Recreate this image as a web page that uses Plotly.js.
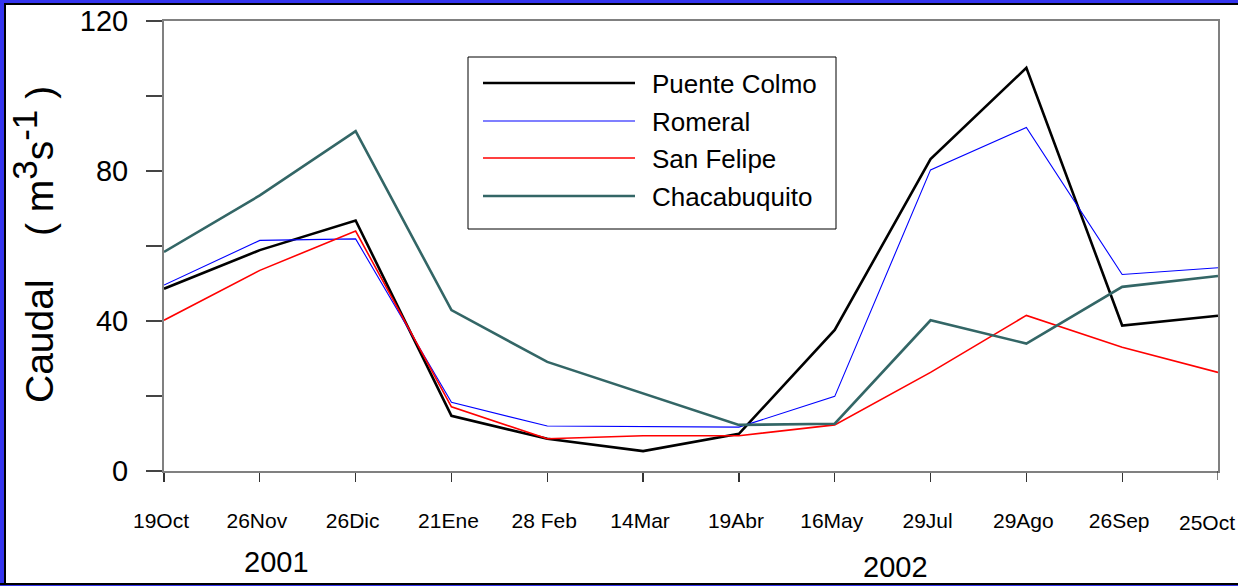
<!DOCTYPE html>
<html>
<head>
<meta charset="utf-8">
<script src="https://cdn.plot.ly/plotly-3.0.1.min.js"></script>
<style>
  html, body { margin: 0; padding: 0; background: #ffffff; }
  #wrap { position: relative; width: 1238px; height: 586px; overflow: hidden; }
  #chart { position: absolute; left: 0; top: 0; width: 1238px; height: 586px; }
  .bd { position: absolute; pointer-events: none; }
</style>
</head>
<body>
<div id="wrap">
  <div id="chart"></div>
  <div class="bd" style="left:0;top:0;width:1238px;height:3px;background:#3535ee;"></div>
  <div class="bd" style="left:0;top:3px;width:1238px;height:2px;background:#000;"></div>
  <div class="bd" style="left:0;top:0;width:4px;height:586px;background:#3535ee;"></div>
  <div class="bd" style="left:4px;top:3px;width:2px;height:583px;background:#000;"></div>
  <div class="bd" style="left:0;top:583px;width:1238px;height:2px;background:#000;"></div>
  <div class="bd" style="left:0;top:585px;width:1238px;height:1px;background:#3535ee;"></div>
</div>
<script>
// Sampling dates (categories)
const dates = ['19Oct', '26Nov', '26Dic', '21Ene', '28 Feb', '14Mar', '19Abr', '16May', '29Jul', '29Ago', '26Sep', '25Oct'];

// Discharge (m3/s) per station
const puenteColmo  = [48.6, 58.9, 66.8, 14.7, 8.6, 5.3, 9.9, 37.6, 83.2, 107.5, 38.8, 41.4];
const romeral      = [49.6, 61.5, 61.9, 18.3, 12.0, 11.9, 11.7, 19.9, 80.3, 91.6, 52.4, 54.2];
const sanFelipe    = [40.2, 53.5, 64.0, 17.1, 8.6, 9.4, 9.4, 12.3, 26.3, 41.5, 33.0, 26.3];
const chacabuquito = [58.4, 73.5, 90.6, 42.9, 29.1, 20.8, 12.3, 12.6, 40.2, 34.0, 49.1, 52.0];

const seriesNames = ['Puente Colmo', 'Romeral', 'San Felipe', 'Chacabuquito'];
const years      = ['2001', '2002'];

const FONT = 'Liberation Sans, Arial, sans-serif';
const styles = [
  {color: '#000000', width: 2.6},
  {color: '#0000ff', width: 1.1},
  {color: '#ff0000', width: 1.6},
  {color: '#336666', width: 2.6}
];
const allSeries = [puenteColmo, romeral, sanFelipe, chacabuquito];

const traces = allSeries.map((vals, i) => ({
  type: 'scatter',
  mode: 'lines',
  x: dates,
  y: vals,
  name: seriesNames[i],
  line: {color: styles[i].color, width: styles[i].width},
  showlegend: false,
  hoverinfo: 'x+y+name'
}));

// plot area in pixels: x 164..1218, y 21..471
const L = 164, R = 1218, T = 21, B = 471;
const px = v => (v - L) / (R - L);
const py = v => (B - v) / (B - T);

const shapes = [];
const annotations = [];

// Custom legend box
shapes.push({type: 'rect', xref: 'paper', yref: 'paper',
  x0: px(468), x1: px(836), y0: py(229), y1: py(57),
  line: {color: '#000', width: 1}, fillcolor: '#ffffff', layer: 'above'});
const rowsY = [83, 121, 158, 196];
seriesNames.forEach((nm, i) => {
  shapes.push({type: 'line', xref: 'paper', yref: 'paper',
    x0: px(483), x1: px(635), y0: py(rowsY[i]), y1: py(rowsY[i]),
    line: {color: styles[i].color, width: styles[i].width}, layer: 'above'});
  annotations.push({xref: 'paper', yref: 'paper', x: px(650), y: py(rowsY[i] + 1),
    xanchor: 'left', yanchor: 'middle', text: nm, showarrow: false,
    font: {family: FONT, size: 26, color: '#000'}});
});

// last x tick (its label is placed by hand so it is not cut at the window edge)
const lastDate = dates[dates.length - 1];
shapes.push({type: 'line', xref: 'x', yref: 'paper', x0: lastDate, x1: lastDate,
  y0: 0, y1: -9 / (B - T), line: {color: '#333', width: 1.2}});
annotations.push({xref: 'x', yref: 'paper', x: lastDate, y: py(522), xshift: -11,
  xanchor: 'center', yanchor: 'middle', text: lastDate, showarrow: false,
  font: {family: FONT, size: 21, color: '#000'}});

// Year labels
annotations.push({xref: 'paper', yref: 'paper', x: px(276), y: py(562), xanchor: 'center', yanchor: 'middle',
  text: years[0], showarrow: false, font: {family: FONT, size: 29, color: '#000'}});
annotations.push({xref: 'paper', yref: 'paper', x: px(895), y: py(567), xanchor: 'center', yanchor: 'middle',
  text: years[1], showarrow: false, font: {family: FONT, size: 29, color: '#000'}});

// Y axis title
annotations.push({xref: 'paper', yref: 'paper', x: px(33), y: py(245), xanchor: 'center', yanchor: 'middle',
  textangle: -90, showarrow: false,
  text: 'Caudal    ( m<sup><span style="font-size:35px">3</span></sup>s<sup><span style="font-size:35px">-1</span></sup> )',
  font: {family: FONT, size: 39, color: '#000'}});

const layout = {
  width: 1238, height: 586,
  margin: {l: L, r: 1238 - R, t: T, b: 586 - B, pad: 0},
  paper_bgcolor: '#ffffff',
  plot_bgcolor: '#ffffff',
  showlegend: false,
  font: {family: FONT, color: '#000'},
  xaxis: {
    type: 'category',
    range: [0, dates.length - 1],
    tickvals: dates.slice(0, -1),
    ticktext: dates.slice(0, -1),
    ticks: 'outside', ticklen: 9, tickwidth: 1.2, tickcolor: '#333',
    ticklabelstandoff: 21,
    ticklabelshift: -3,
    tickfont: {size: 21, family: FONT, color: '#000'},
    showline: true, linecolor: '#808080', linewidth: 2, mirror: true,
    showgrid: false, zeroline: false, fixedrange: true
  },
  yaxis: {
    range: [0, 120],
    tick0: 0,
    dtick: 40,
    ticks: 'outside', ticklen: 16, tickwidth: 1.2, tickcolor: '#444',
    minor: {dtick: 20, tick0: 0, ticks: 'outside', ticklen: 16, tickwidth: 1.2, tickcolor: '#444', showgrid: false},
    ticklabelstandoff: 12,
    tickfont: {size: 29, family: FONT, color: '#000'},
    showline: true, linecolor: '#808080', linewidth: 2, mirror: true,
    showgrid: false, zeroline: false, fixedrange: true
  },
  shapes: shapes,
  annotations: annotations
};

Plotly.newPlot('chart', traces, layout, {displayModeBar: false, staticPlot: true});
</script>
</body>
</html>
